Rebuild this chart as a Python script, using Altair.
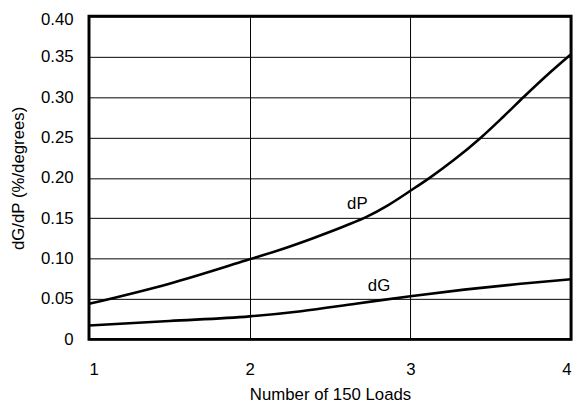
import altair as alt
import pandas as pd

dp_x = [1.0, 1.5, 1.98, 2.19, 2.39, 2.6, 2.73, 2.86, 3.0, 3.12, 3.27, 3.44, 3.58, 3.71, 3.85, 4.0]
dp_y = [0.044, 0.069, 0.098, 0.111, 0.125, 0.141, 0.152, 0.166, 0.184, 0.200, 0.222, 0.250, 0.276, 0.301, 0.327, 0.353]
dg_x = [1.0, 1.5, 2.0, 2.32, 2.66, 3.0, 3.335, 3.67, 4.0]
dg_y = [0.0172, 0.0228, 0.0285, 0.0349, 0.0442, 0.0535, 0.0616, 0.0685, 0.0745]

label_text = ["dP", "dG"]
label_x = [2.67, 2.805]
label_y = [0.167, 0.066]

df = pd.concat([
    pd.DataFrame({"x": dp_x, "y": dp_y, "s": "dP"}),
    pd.DataFrame({"x": dg_x, "y": dg_y, "s": "dG"}),
])
lab = pd.DataFrame({"t": label_text, "x": label_x, "y": label_y})

FONT = "Liberation Sans"
FS = 17

xs = alt.Scale(domain=[1, 4], nice=False, zero=False)
ys = alt.Scale(domain=[0, 0.4], nice=False)

lines = alt.Chart(df).mark_line(color="black", strokeWidth=2.6, interpolate="monotone").encode(
    x=alt.X("x:Q", scale=xs, title="Number of 150 Loads",
            axis=alt.Axis(values=[1, 2, 3, 4], format="d", grid=True, gridColor="black",
                          gridOpacity=1, gridWidth=1, ticks=False, domain=False,
                          labelPadding=23, titlePadding=9)),
    y=alt.Y("y:Q", scale=ys, title="dG/dP (%/degrees)",
            axis=alt.Axis(values=[0, 0.05, 0.1, 0.15, 0.2, 0.25, 0.3, 0.35, 0.4],
                          labelExpr="datum.value == 0 ? '0' : format(datum.value, '.2f')",
                          labelOffset=alt.expr("datum.value > 0.39 ? 3 : 0"),
                          grid=True, gridColor="black", gridOpacity=1, gridWidth=1,
                          ticks=False, domain=False, labelPadding=16, titlePadding=13)),
    detail="s:N",
)

texts = alt.Chart(lab).mark_text(font=FONT, fontSize=FS, color="black").encode(
    x=alt.X("x:Q", scale=xs),
    y=alt.Y("y:Q", scale=ys),
    text="t:N",
)

chart = (lines + texts).properties(
    width=488, height=327,
    autosize=alt.AutoSizeParams(type="none"),
    padding={"left": 82, "top": 6, "right": 5, "bottom": 64},
).configure_view(
    stroke="black", strokeWidth=3
).configure_axis(
    labelFont=FONT, titleFont=FONT, labelFontSize=FS, titleFontSize=FS,
    labelColor="black", titleColor="black", titleFontWeight="normal"
)

chart.save("out.html", embed_options={"renderer": "svg", "actions": False})
